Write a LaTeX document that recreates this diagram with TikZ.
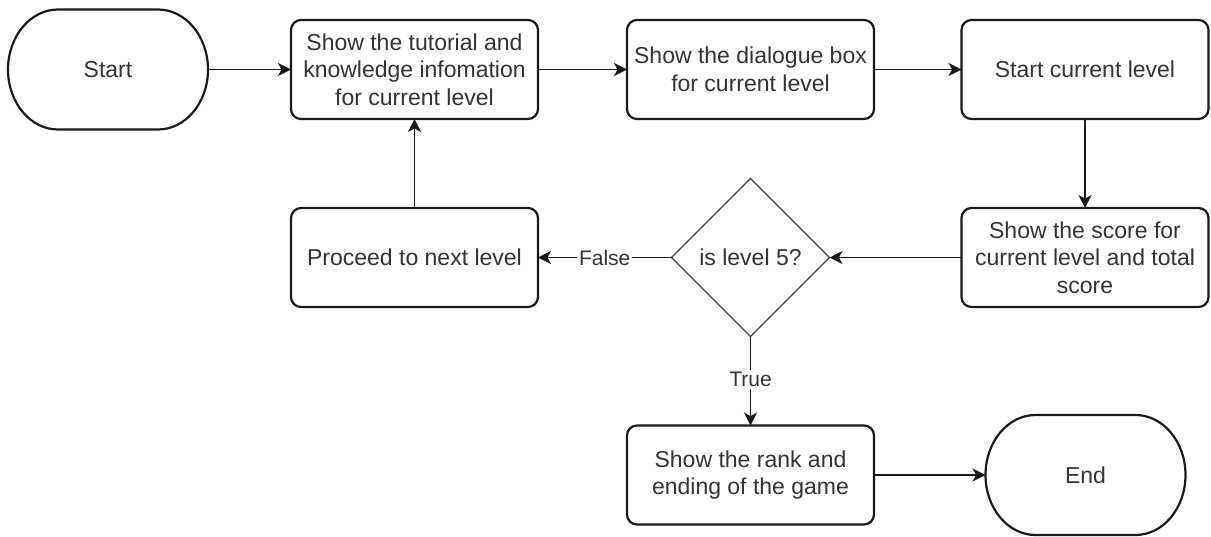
\documentclass[tikz,border=0pt]{standalone}
\usepackage{fontspec}
\setmainfont{Liberation Sans}
\usetikzlibrary{arrows.meta,shapes.geometric}

\definecolor{ink}{HTML}{1A1A1A}
\definecolor{txt}{HTML}{333333}

\tikzset{
  box/.style={draw=ink, line width=1.1pt, rounded corners=5pt, fill=white,
    minimum width=123.5pt, minimum height=49.5pt, inner sep=0pt, outer sep=0pt,
    align=center, text=txt, font=\fontsize{11.5pt}{13.8pt}\selectfont},
  termnode/.style={draw=none, minimum width=100pt, minimum height=60pt,
    inner sep=0pt, outer sep=0pt, text=txt, font=\fontsize{11.5pt}{13.8pt}\selectfont},
  termline/.style={draw=ink, line width=1.1pt},
  decision/.style={diamond, draw=black!75, line width=0.6pt, aspect=1,
    minimum width=79pt, minimum height=79pt, inner sep=0pt, outer sep=0pt,
    text=txt, font=\fontsize{11.5pt}{13.8pt}\selectfont},
  conn/.style={draw=ink, line width=0.7pt,
    -{Stealth[length=6.5pt, width=6.5pt, inset=1.8pt]}},
  lbl/.style={fill=white, inner sep=1pt, text=txt,
    font=\fontsize{10.5pt}{12.6pt}\selectfont}
}

\begin{document}
\begin{tikzpicture}[x=0.5pt, y=-0.5pt]
  \useasboundingbox (0,0) rectangle (1211,536);

  % terminators (drawn as flat-topped shapes with elliptical ends)
  \node[termnode] (start) at (108,69.5) {Start};
  \draw[termline] ([xshift=25pt]start.north west) -- ([xshift=-25pt]start.north east)
    arc[start angle=90, end angle=-90, x radius=25pt, y radius=30pt]
    -- ([xshift=25pt]start.south west)
    arc[start angle=270, end angle=90, x radius=25pt, y radius=30pt] -- cycle;

  \node[termnode] (end) at (1085.5,475) {End};
  \draw[termline] ([xshift=25pt]end.north west) -- ([xshift=-25pt]end.north east)
    arc[start angle=90, end angle=-90, x radius=25pt, y radius=30pt]
    -- ([xshift=25pt]end.south west)
    arc[start angle=270, end angle=90, x radius=25pt, y radius=30pt] -- cycle;

  % process steps
  \node[box] (tut)   at (414.5,69.5)  {Show the tutorial and\\knowledge infomation\\for current level};
  \node[box] (dlg)   at (750.5,69.5)  {Show the dialogue box\\for current level};
  \node[box] (lvl)   at (1085,69.5)   {Start current level};
  \node[box] (score) at (1085,257.5)  {Show the score for\\current level and total\\score};
  \node[box] (next)  at (414.5,257.5) {Proceed to next level};
  \node[box] (rank)  at (750.5,475)   {Show the rank and\\ending of the game};

  % decision
  \node[decision] (dec) at (750.5,257.5) {is level 5?};

  % connectors
  \draw[conn] (start.east) -- (tut.west);
  \draw[conn] (tut.east) -- (dlg.west);
  \draw[conn] (dlg.east) -- (lvl.west);
  \draw[conn] (lvl.south) -- (score.north);
  \draw[conn] (score.west) -- (dec.east);
  \draw[conn] (dec.west) -- node[lbl] {False} (next.east);
  \draw[conn] (dec.south) -- node[lbl, pos=0.48] {True} (rank.north);
  \draw[conn] (next.north) -- (tut.south);
  \draw[conn] (rank.east) -- (end.west);
\end{tikzpicture}
\end{document}
